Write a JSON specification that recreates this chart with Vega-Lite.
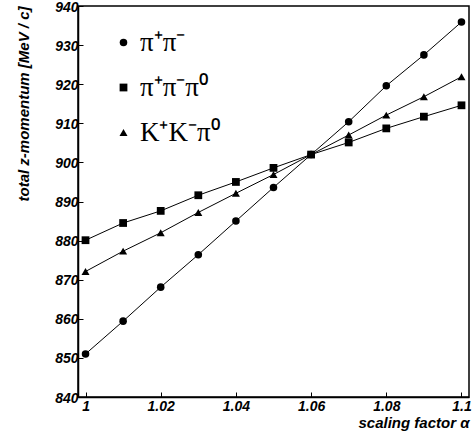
{
  "$schema": "https://vega.github.io/schema/vega-lite/v6.json",
  "width": 391,
  "height": 391,
  "autosize": "none",
  "padding": {"left": 78, "top": 6, "right": 3, "bottom": 48},
  "background": "white",
  "config": {
    "view": {"stroke": "black", "strokeWidth": 1.5},
    "font": "Liberation Sans",
    "axis": {
      "domainColor": "black", "domainWidth": 1.5, "tickColor": "black", "tickWidth": 1,
      "tickSize": -5, "grid": false,
      "labelFont": "Liberation Sans", "labelFontWeight": "bold", "labelFontStyle": "italic",
      "labelFontSize": 14, "labelColor": "black",
      "titleFont": "Liberation Sans", "titleFontWeight": "bold", "titleFontStyle": "italic",
      "titleFontSize": 15, "titleColor": "black"
    }
  },
  "data": {"values": [
    {"alpha": 1.00, "p": 851.0, "ch": "π⁺π⁻"},
    {"alpha": 1.01, "p": 859.4, "ch": "π⁺π⁻"},
    {"alpha": 1.02, "p": 868.1, "ch": "π⁺π⁻"},
    {"alpha": 1.03, "p": 876.4, "ch": "π⁺π⁻"},
    {"alpha": 1.04, "p": 885.0, "ch": "π⁺π⁻"},
    {"alpha": 1.05, "p": 893.6, "ch": "π⁺π⁻"},
    {"alpha": 1.06, "p": 902.0, "ch": "π⁺π⁻"},
    {"alpha": 1.07, "p": 910.4, "ch": "π⁺π⁻"},
    {"alpha": 1.08, "p": 919.6, "ch": "π⁺π⁻"},
    {"alpha": 1.09, "p": 927.5, "ch": "π⁺π⁻"},
    {"alpha": 1.10, "p": 935.9, "ch": "π⁺π⁻"},
    {"alpha": 1.00, "p": 880.1, "ch": "π⁺π⁻π⁰"},
    {"alpha": 1.01, "p": 884.5, "ch": "π⁺π⁻π⁰"},
    {"alpha": 1.02, "p": 887.6, "ch": "π⁺π⁻π⁰"},
    {"alpha": 1.03, "p": 891.6, "ch": "π⁺π⁻π⁰"},
    {"alpha": 1.04, "p": 895.0, "ch": "π⁺π⁻π⁰"},
    {"alpha": 1.05, "p": 898.6, "ch": "π⁺π⁻π⁰"},
    {"alpha": 1.06, "p": 902.0, "ch": "π⁺π⁻π⁰"},
    {"alpha": 1.07, "p": 905.1, "ch": "π⁺π⁻π⁰"},
    {"alpha": 1.08, "p": 908.7, "ch": "π⁺π⁻π⁰"},
    {"alpha": 1.09, "p": 911.7, "ch": "π⁺π⁻π⁰"},
    {"alpha": 1.10, "p": 914.6, "ch": "π⁺π⁻π⁰"},
    {"alpha": 1.00, "p": 872.1, "ch": "K⁺K⁻π⁰"},
    {"alpha": 1.01, "p": 877.3, "ch": "K⁺K⁻π⁰"},
    {"alpha": 1.02, "p": 882.0, "ch": "K⁺K⁻π⁰"},
    {"alpha": 1.03, "p": 887.2, "ch": "K⁺K⁻π⁰"},
    {"alpha": 1.04, "p": 892.1, "ch": "K⁺K⁻π⁰"},
    {"alpha": 1.05, "p": 896.9, "ch": "K⁺K⁻π⁰"},
    {"alpha": 1.06, "p": 902.0, "ch": "K⁺K⁻π⁰"},
    {"alpha": 1.07, "p": 907.0, "ch": "K⁺K⁻π⁰"},
    {"alpha": 1.08, "p": 912.1, "ch": "K⁺K⁻π⁰"},
    {"alpha": 1.09, "p": 916.8, "ch": "K⁺K⁻π⁰"},
    {"alpha": 1.10, "p": 921.9, "ch": "K⁺K⁻π⁰"}
  ]},
  "encoding": {
    "x": {"field": "alpha", "type": "quantitative",
      "scale": {"domain": [0.998, 1.102], "nice": false, "zero": false},
      "axis": {"values": [1, 1.02, 1.04, 1.06, 1.08, 1.1], "format": "~g", "title": "scaling factor α",
        "titleAnchor": "end", "titlePadding": 2, "labelPadding": 7, "labelFlush": false}},
    "y": {"field": "p", "type": "quantitative",
      "scale": {"domain": [840, 940], "nice": false, "zero": false},
      "axis": {"values": [840, 850, 860, 870, 880, 890, 900, 910, 920, 930, 940],
        "title": "total z-momentum [MeV / c]", "titleAnchor": "end", "titlePadding": 23,
        "labelPadding": 5, "labelAlign": "right", "labelOffset": 1, "labelFlush": false}}
  },
  "layer": [
    {"mark": {"type": "line", "color": "black", "strokeWidth": 1},
     "encoding": {"detail": {"field": "ch"}}},
    {"mark": {"type": "point", "filled": true, "color": "black", "opacity": 1},
     "encoding": {
       "shape": {"field": "ch", "type": "nominal",
         "scale": {"domain": ["π⁺π⁻", "π⁺π⁻π⁰", "K⁺K⁻π⁰"], "range": ["circle", "square", "triangle-up"]},
         "legend": {"orient": "none", "legendX": 32, "legendY": 23, "title": null,
           "labelFont": "Liberation Serif", "labelFontSize": 27, "labelColor": "black",
           "symbolFillColor": "black", "symbolStrokeColor": "black", "symbolSize": 30,
           "rowPadding": 17, "labelOffset": 3}},
       "size": {"field": "ch", "type": "nominal",
         "scale": {"domain": ["π⁺π⁻", "π⁺π⁻π⁰", "K⁺K⁻π⁰"], "range": [57, 64, 95]}}
     }}
  ]
}
